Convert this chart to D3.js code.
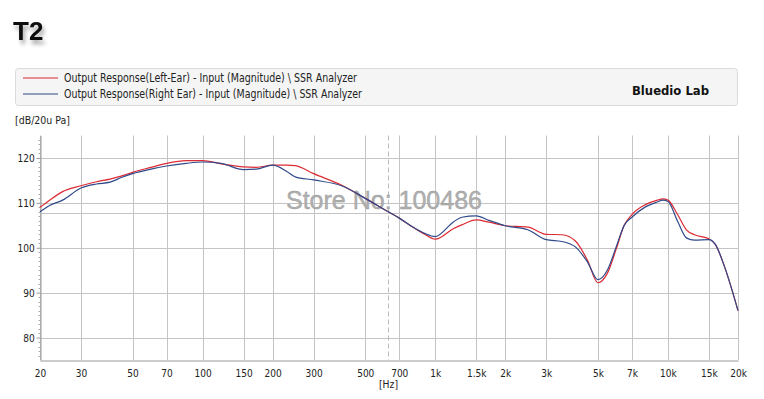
<!DOCTYPE html>
<html>
<head>
<meta charset="utf-8">
<script src="https://cdn.jsdelivr.net/npm/d3@7"></script>
<style>
    html, body { margin: 0; padding: 0; background: #fff; }
    svg { display: block; }
</style>
</head>
<body>
<svg id="chart" width="764" height="399"></svg>
<script>
// frequency points (Hz)
var freqs = [20, 22, 25, 30, 35, 40, 45, 50, 60, 70, 85, 100, 120, 150, 170, 200, 230, 250, 300, 400,
    500, 628, 700, 800, 900, 1000, 1200, 1300, 1500, 1700, 2000, 2500, 3000, 3500, 4000, 4500,
    5000, 5500, 6000, 6500, 7000, 8000, 9000, 9500, 10000, 11000, 12000, 13000, 15000, 16000, 17500, 20000];

var leftEar = [109.0, 110.6, 112.5, 113.8, 114.7, 115.3, 116.0, 116.8, 117.9, 118.8, 119.4, 119.4, 118.7, 118.0, 117.9, 118.4, 118.4, 118.3, 116.5, 113.8,
    111.0, 108.0, 106.6, 104.6, 103.0, 101.9, 104.3, 105.1, 106.2, 105.7, 104.9, 104.6, 103.0, 102.9, 101.5, 97.3,
    92.2, 94.4, 99.8, 105.1, 107.4, 109.6, 110.6, 110.9, 110.6, 107.4, 104.0, 102.9, 102.0, 100.7, 95.8, 86.0];

var rightEar = [108.0, 109.4, 110.6, 113.3, 114.2, 114.6, 115.7, 116.5, 117.5, 118.2, 118.8, 119.1, 118.8, 117.4, 117.5, 118.4, 117.0, 115.8, 115.1, 113.7,
    111.0, 108.0, 106.6, 104.6, 103.2, 102.5, 105.8, 106.8, 107.1, 106.1, 104.9, 104.0, 101.8, 101.4, 100.2, 96.9,
    92.9, 95.1, 100.3, 105.1, 106.8, 109.1, 110.2, 110.6, 110.3, 105.9, 102.2, 101.7, 101.8, 100.7, 95.8, 86.0];

var xTicks = [20, 30, 50, 70, 100, 150, 200, 300, 500, 700, 1000, 1500, 2000, 3000, 5000, 7000, 10000, 15000, 20000];
var xTickLabels = ['20', '30', '50', '70', '100', '150', '200', '300', '500', '700', '1k', '1.5k', '2k', '3k', '5k', '7k', '10k', '15k', '20k'];
var yTicks = [80, 90, 100, 110, 120];
var refLevel = 107.8;
var cursorFreq = 628;

var seriesNames = [
    'Output Response(Left-Ear) - Input (Magnitude) \\ SSR Analyzer',
    'Output Response(Right Ear) - Input (Magnitude) \\ SSR Analyzer'
];
var seriesColors = ['#dc2a32', '#2f4a8a'];


function drawChart() {
    var svg = d3.select('#chart'),
        tickFont = '"DejaVu Sans", sans-serif',
        left = 40, right = 738, top = 135.5, bottom = 360;

    var x = d3.scaleLog().domain([20, 20000]).range([left, right]);
    var y = d3.scaleLinear().domain([75, 125]).range([bottom, top]);

    // title with soft shadow
    var defs = svg.append('defs');
    var f = defs.append('filter').attr('id', 'shadow')
        .attr('x', '-30%').attr('y', '-30%').attr('width', '160%').attr('height', '160%');
    f.append('feDropShadow')
        .attr('dx', 2).attr('dy', 4).attr('stdDeviation', 2)
        .attr('flood-color', '#000').attr('flood-opacity', 0.35);

    svg.append('text')
        .attr('x', 13).attr('y', 40)
        .attr('font-family', '"Liberation Sans", Arial, sans-serif')
        .attr('font-weight', 'bold')
        .attr('font-size', 26)
        .attr('fill', '#111')
        .attr('filter', 'url(#shadow)')
        .text('T2');

    // legend box
    svg.append('rect')
        .attr('x', 15.5).attr('y', 68.5)
        .attr('width', 722).attr('height', 37)
        .attr('rx', 3)
        .attr('fill', '#f5f5f5')
        .attr('stroke', '#dadada');

    var legend = svg.selectAll('.legend-item')
        .data(seriesNames)
        .enter()
        .append('g')
        .attr('class', 'legend-item')
        .attr('transform', function(d, i) { return 'translate(0,' + (78 + i * 16) + ')'; });

    legend.append('line')
        .attr('x1', 23).attr('x2', 58)
        .attr('stroke', function(d, i) { return seriesColors[i]; })
        .attr('stroke-width', 1.2);

    legend.append('text')
        .attr('x', 64).attr('y', 4)
        .attr('font-family', tickFont)
        .attr('font-size', 12)
        .attr('fill', '#222')
        .attr('textLength', function(d, i) { return i ? 298 : 293; })
        .attr('lengthAdjust', 'spacingAndGlyphs')
        .text(function(d) { return d; });

    svg.append('text')
        .attr('x', 632).attr('y', 95)
        .attr('font-family', tickFont)
        .attr('font-weight', 'bold')
        .attr('font-size', 13)
        .attr('fill', '#111')
        .attr('textLength', 77)
        .attr('lengthAdjust', 'spacingAndGlyphs')
        .text('Bluedio Lab');

    svg.append('text')
        .attr('x', 15).attr('y', 124)
        .attr('font-family', tickFont)
        .attr('font-size', 11)
        .attr('fill', '#222')
        .attr('textLength', 55)
        .attr('lengthAdjust', 'spacingAndGlyphs')
        .text('[dB/20u Pa]');

    // grid
    var grid = svg.append('g').attr('class', 'grid');

    grid.selectAll('.vgrid')
        .data(xTicks)
        .enter()
        .append('line')
        .attr('class', 'vgrid')
        .attr('x1', function(d) { return Math.round(x(d)) + 0.5; })
        .attr('x2', function(d) { return Math.round(x(d)) + 0.5; })
        .attr('y1', top).attr('y2', bottom)
        .attr('stroke', '#c4c4c4');

    grid.selectAll('.hgrid')
        .data(yTicks.concat([refLevel]))
        .enter()
        .append('line')
        .attr('class', 'hgrid')
        .attr('x1', left).attr('x2', right)
        .attr('y1', function(d) { return Math.round(y(d)) + 0.5; })
        .attr('y2', function(d) { return Math.round(y(d)) + 0.5; })
        .attr('stroke', '#c4c4c4');

    grid.append('line')
        .attr('x1', Math.round(x(cursorFreq)) + 0.5)
        .attr('x2', Math.round(x(cursorFreq)) + 0.5)
        .attr('y1', top).attr('y2', bottom)
        .attr('stroke', '#b8b8b8')
        .attr('stroke-dasharray', '5,3');

    // axes
    var xAxis = d3.axisBottom(x)
        .tickValues(xTicks)
        .tickSize(0)
        .tickPadding(9)
        .tickFormat(function(d, i) { return xTickLabels[i]; });

    var gx = svg.append('g')
        .attr('transform', 'translate(0,' + (bottom + 0.5) + ')')
        .call(xAxis);

    gx.select('.domain').attr('stroke', '#999');
    gx.selectAll('text')
        .attr('font-family', tickFont)
        .attr('font-size', 11)
        .attr('fill', '#222')
        .attr('transform', 'scale(0.82,1)');

    var yAxis = d3.axisLeft(y)
        .tickValues(yTicks)
        .tickSize(4)
        .tickPadding(3)
        .tickSizeOuter(0);

    var gy = svg.append('g')
        .attr('transform', 'translate(' + (left + 0.5) + ',0)')
        .call(yAxis);

    gy.select('.domain').attr('stroke', '#999');
    gy.selectAll('.tick line').attr('stroke', '#999');
    gy.selectAll('text')
        .attr('font-family', tickFont)
        .attr('font-size', 11)
        .attr('fill', '#222')
        .attr('transform', 'scale(0.82,1)');

    var minor = d3.range(76, 125).filter(function(v) { return v % 10 !== 0; });
    gy.selectAll('.minor')
        .data(minor)
        .enter()
        .append('line')
        .attr('class', 'minor')
        .attr('x1', -2).attr('x2', 0)
        .attr('y1', function(d) { return Math.round(y(d)) + 0.5; })
        .attr('y2', function(d) { return Math.round(y(d)) + 0.5; })
        .attr('stroke', '#aaa');

    svg.append('text')
        .attr('x', 379).attr('y', 388)
        .attr('font-family', tickFont)
        .attr('font-size', 11)
        .attr('fill', '#222')
        .attr('textLength', 19)
        .attr('lengthAdjust', 'spacingAndGlyphs')
        .text('[Hz]');

    // watermark
    svg.append('text')
        .attr('x', 286).attr('y', 209)
        .attr('font-family', '"Liberation Sans", Arial, sans-serif')
        .attr('font-size', 25)
        .attr('fill', '#b0b0b0')
        .attr('stroke', '#9a9a9a')
        .attr('stroke-width', 0.4)
        .text('Store No: 100486');

    // response curves
    var line = d3.line()
        .x(function(d) { return x(d[0]); })
        .y(function(d) { return y(d[1]); })
        .curve(d3.curveMonotoneX);

    var series = [leftEar, rightEar].map(function(vals) {
        return freqs.map(function(fq, i) { return [fq, vals[i]]; });
    });

    svg.selectAll('.response')
        .data(series)
        .enter()
        .append('path')
        .attr('class', 'response')
        .attr('fill', 'none')
        .attr('stroke', function(d, i) { return seriesColors[i]; })
        .attr('stroke-width', 1.2)
        .attr('d', line);
}

drawChart();
</script>
</body>
</html>
